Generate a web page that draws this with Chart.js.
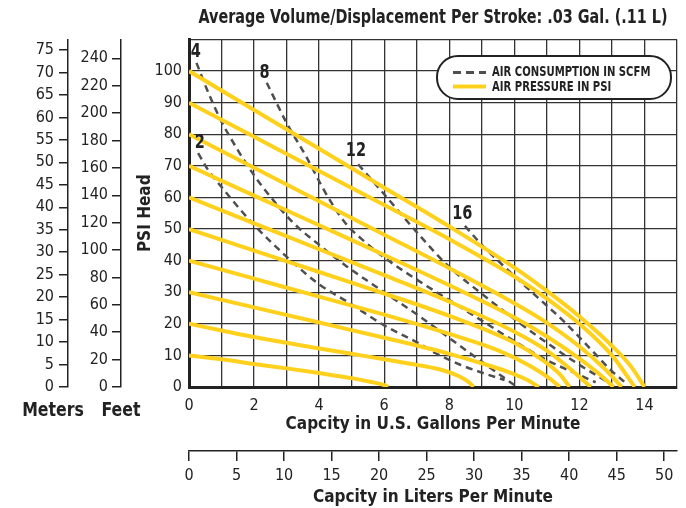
<!DOCTYPE html>
<html>
<head>
<meta charset="utf-8">
<script src="https://cdn.jsdelivr.net/npm/chart.js@4.4.1/dist/chart.umd.min.js"></script>
<style>
  html, body { margin: 0; padding: 0; background: #fff; }
  #wrap { width: 686px; height: 508px; }
</style>
</head>
<body>
<div id="wrap"><canvas id="pumpChart"></canvas></div>
<script>
// air pressure curves: capacity (gpm) vs head (psi)
const gpm10 = [0, 1, 2, 3, 4, 5, 5.6, 6.0, 6.12];
const psi10 = [10, 8.8, 7.3, 5.9, 4.4, 2.8, 1.6, 0.6, 0];
const gpm20 = [0, 1, 2, 3, 4, 5, 6, 7, 7.8, 8.3, 8.6, 8.75];
const psi20 = [20, 17.9, 15.8, 14, 12.2, 10.5, 8.8, 7, 5.3, 3.4, 1.5, 0];
const gpm30 = [0, 2, 4, 6, 8, 9, 9.8, 10.4, 10.75];
const psi30 = [30, 25.2, 20.4, 15.6, 10.5, 7.5, 4.8, 2.2, 0];
const gpm40 = [0, 2, 4, 6, 8, 9.5, 10.5, 11.1, 11.4];
const psi40 = [40, 34.3, 28.6, 22.9, 16.8, 11.6, 6.6, 2.6, 0];
const gpm50 = [0, 2, 4, 6, 8, 10, 10.8, 11.4, 11.7];
const psi50 = [50, 43.2, 36.4, 29.6, 22.5, 14, 9, 4, 0];
const gpm60 = [0, 2, 4, 6, 8, 10, 11, 11.8, 12.35];
const psi60 = [60, 51.8, 43.6, 35.4, 27, 17.5, 11.5, 5, 0];
const gpm70 = [0, 2, 4, 6, 8, 10, 11, 12, 12.6, 13.05];
const psi70 = [70, 60.6, 51.2, 41.8, 32.2, 22, 16, 9, 4.2, 0];
const gpm80 = [0, 2, 4, 6, 8, 10, 11, 12, 12.8, 13.3];
const psi80 = [80, 69.4, 58.8, 48.2, 37.6, 26.5, 20.3, 12.8, 5.5, 0];
const gpm90 = [0, 2, 4, 6, 8, 10, 11, 12, 13, 13.7];
const psi90 = [90, 79.2, 68.4, 57.6, 46.8, 35, 28, 20, 10, 0];
const gpm100 = [0, 2, 4, 6, 8, 10, 11, 12, 13, 13.6, 14];
const psi100 = [100, 87.7, 75.4, 63.1, 50.8, 37.8, 30.4, 22.3, 13, 6.3, 0];

// air consumption curves (scfm)
const gpmScfm2 = [0.28, 0.6, 1.0, 1.9, 3.1, 4.0, 4.9, 6.0, 7.07, 7.6, 8.3, 9.1, 9.7];
const psiScfm2 = [74, 68.5, 63.3, 52.4, 40.3, 32.5, 26.8, 19.5, 13.8, 10.6, 7.2, 4.2, 2.2];
const gpmScfm4 = [0.23, 0.6, 1.0, 1.5, 2, 2.6, 3.2, 4, 4.86, 6, 7, 8, 9, 10];
const psiScfm4 = [102.6, 93, 84, 75, 67, 59, 52, 45, 38.1, 30, 23, 15.5, 8, 0.6];
const gpmScfm8 = [2.39, 3.0, 3.6, 4.2, 4.8, 5.4, 6, 7, 8, 9, 10, 11, 12, 12.5];
const psiScfm8 = [96.3, 83.6, 73, 61.4, 52, 46, 41, 34, 27.5, 21, 14.5, 8.5, 3.8, 1.5];
const gpmScfm12 = [5.2, 6, 7, 8, 9, 10, 11, 12, 12.8];
const psiScfm12 = [70.5, 61, 49, 38, 29.5, 21.5, 14, 7, 2];
const gpmScfm16 = [8.48, 9, 9.68, 10.69, 11.5, 12.3, 13, 13.4];
const psiScfm16 = [51, 45, 38.2, 28.6, 21, 12.5, 5, 1.5];

// scfm labels on the curves
const scfmLabels = ['4', '8', '2', '12', '16'];
const scfmLabelGpm = [0.21, 2.32, 0.33, 5.13, 8.4];
const scfmLabelPsi = [106.1, 99.5, 77.1, 74.8, 54.8];

const PSI_MAX = 110;
const FT_PER_PSI = 2.3067;
const M_PER_PSI = 0.70307;

const FONT = "'DejaVu Sans Condensed', 'Liberation Sans Narrow', sans-serif";
const INK = '#222';
const YELLOW = '#FFD11C';
const DASH_GRAY = '#4f4f4f';
const TITLE = 'Average Volume/Displacement Per Stroke: .03 Gal. (.11 L)';

Chart.defaults.font.family = FONT;
Chart.defaults.color = INK;

function pts(xs, ys) {
    return xs.map((x, i) => ({ x: x, y: ys[i] }));
}

function pressureSet(xs, ys) {
    return {
        data: pts(xs, ys),
        borderColor: YELLOW,
        borderWidth: 4,
        cubicInterpolationMode: 'monotone',
        pointRadius: 0,
        showLine: true
    };
}

function scfmSet(xs, ys) {
    return {
        data: pts(xs, ys),
        borderColor: DASH_GRAY,
        borderWidth: 2.5,
        borderDash: [7, 5],
        cubicInterpolationMode: 'monotone',
        pointRadius: 0,
        showLine: true
    };
}

const datasets = [
    pressureSet(gpm100, psi100),
    pressureSet(gpm90, psi90),
    pressureSet(gpm80, psi80),
    pressureSet(gpm70, psi70),
    pressureSet(gpm60, psi60),
    pressureSet(gpm50, psi50),
    pressureSet(gpm40, psi40),
    pressureSet(gpm30, psi30),
    pressureSet(gpm20, psi20),
    pressureSet(gpm10, psi10),
    scfmSet(gpmScfm2, psiScfm2),
    scfmSet(gpmScfm4, psiScfm4),
    scfmSet(gpmScfm8, psiScfm8),
    scfmSet(gpmScfm12, psiScfm12),
    scfmSet(gpmScfm16, psiScfm16)
];

// narrow text: the original uses a condensed face, squeeze a bit
function narrowText(ctx, text, x, y, squeeze) {
    ctx.save();
    ctx.translate(x, y);
    ctx.scale(squeeze, 1);
    ctx.fillText(text, 0, 0);
    ctx.restore();
}

const overlay = {
    id: 'overlay',
    afterDatasetsDraw(chart) {
        const ctx = chart.ctx;
        const xs = chart.scales.x, ys = chart.scales.y;
        ctx.save();
        ctx.fillStyle = INK;
        ctx.font = 'bold 19px ' + FONT;
        ctx.textAlign = 'center';
        ctx.textBaseline = 'middle';
        scfmLabels.forEach((t, i) => {
            narrowText(ctx, t, xs.getPixelForValue(scfmLabelGpm[i]), ys.getPixelForValue(scfmLabelPsi[i]), 0.85);
        });
        ctx.restore();
    },
    afterDraw(chart) {
        const ctx = chart.ctx;
        const area = chart.chartArea;
        ctx.save();

        // title over the plot area, condensed to the original width
        ctx.fillStyle = INK;
        ctx.font = 'bold 19px ' + FONT;
        ctx.textAlign = 'center';
        ctx.textBaseline = 'middle';
        ctx.fillText(TITLE, (area.left + area.right) / 2, 18, 469);

        // legend box
        ctx.beginPath();
        ctx.roundRect(437, 56, 234, 43, 21);
        ctx.fillStyle = '#fff';
        ctx.fill();
        ctx.lineWidth = 2;
        ctx.strokeStyle = INK;
        ctx.stroke();

        ctx.beginPath();
        ctx.setLineDash([8, 5]);
        ctx.lineWidth = 3;
        ctx.strokeStyle = DASH_GRAY;
        ctx.moveTo(453, 72.5);
        ctx.lineTo(486, 72.5);
        ctx.stroke();
        ctx.setLineDash([]);

        ctx.beginPath();
        ctx.lineWidth = 4;
        ctx.strokeStyle = YELLOW;
        ctx.moveTo(453, 86.5);
        ctx.lineTo(486, 86.5);
        ctx.stroke();

        ctx.fillStyle = INK;
        ctx.font = 'bold 14px ' + FONT;
        ctx.textAlign = 'left';
        narrowText(ctx, 'AIR CONSUMPTION IN SCFM', 492, 72.5, 0.8);
        narrowText(ctx, 'AIR PRESSURE IN PSI', 492, 87, 0.8);

        // unit names under the head scales
        ctx.font = 'bold 19px ' + FONT;
        ctx.textAlign = 'center';
        narrowText(ctx, 'Meters', 53, 411, 0.92);
        narrowText(ctx, 'Feet', 121, 411, 0.92);
        ctx.restore();
    }
};

const tickFont = { size: 16 };
const titleFont = { size: 17, weight: 'bold' };

new Chart(document.getElementById('pumpChart'), {
    type: 'scatter',
    data: { datasets: datasets },
    plugins: [overlay],
    options: {
        responsive: true,
        maintainAspectRatio: false,
        animation: false,
        layout: { padding: { top: 39.5, right: 0, bottom: 0, left: 0 } },
        plugins: {
            legend: { display: false },
            tooltip: { enabled: false },
            title: { display: false }
        },
        scales: {
            x: {
                type: 'linear',
                position: 'bottom',
                weight: 0,
                min: 0,
                max: 15,
                ticks: {
                    stepSize: 1,
                    font: tickFont,
                    padding: 9,
                    maxRotation: 0,
                    autoSkip: false,
                    callback: v => (v % 2 === 0 && v < 15) ? String(v) : ''
                },
                grid: { color: '#333', lineWidth: 1.3, drawTicks: false },
                border: { display: true, width: 3, color: INK },
                title: {
                    display: true,
                    text: 'Capcity in U.S. Gallons Per Minute',
                    font: titleFont,
                    padding: { top: 0, bottom: 16 }
                },
                afterFit: s => { s.height = 64; }
            },
            xl: {
                type: 'linear',
                position: 'bottom',
                weight: 1,
                min: 0,
                max: 51.35,
                ticks: {
                    stepSize: 5,
                    includeBounds: false,
                    autoSkip: false,
                    font: tickFont,
                    padding: 5,
                    maxRotation: 0
                },
                grid: { drawOnChartArea: false, tickLength: 10, color: INK, lineWidth: 1.5 },
                border: { display: true, width: 1.5, color: INK },
                title: {
                    display: true,
                    text: 'Capcity in Liters Per Minute',
                    font: titleFont,
                    padding: { top: 0, bottom: 0 }
                },
                afterFit: s => { s.height = 57; }
            },
            y: {
                type: 'linear',
                position: 'left',
                weight: 0,
                min: 0,
                max: PSI_MAX,
                ticks: {
                    stepSize: 10,
                    font: tickFont,
                    padding: 7,
                    autoSkip: false,
                    callback: v => v < PSI_MAX ? String(v) : ''
                },
                grid: { color: '#333', lineWidth: 1.3, drawTicks: false },
                border: { display: true, width: 3, color: INK },
                title: {
                    display: true,
                    text: 'PSI Head',
                    font: { size: 17, weight: 'bold' },
                    padding: { top: 14, bottom: 14 }
                },
                afterFit: s => { s.width = 68; }
            },
            yf: {
                type: 'linear',
                position: 'left',
                weight: 1,
                min: 0,
                max: PSI_MAX * FT_PER_PSI,
                ticks: { stepSize: 20, includeBounds: false, autoSkip: false, font: tickFont, padding: 4 },
                grid: { drawOnChartArea: false, tickLength: 9, color: INK, lineWidth: 1.5 },
                border: { display: true, width: 1.5, color: INK },
                afterFit: s => { s.width = 53; }
            },
            ym: {
                type: 'linear',
                position: 'left',
                weight: 2,
                min: 0,
                max: PSI_MAX * M_PER_PSI,
                ticks: { stepSize: 5, includeBounds: false, autoSkip: false, font: tickFont, padding: 5 },
                grid: { drawOnChartArea: false, tickLength: 9, color: INK, lineWidth: 1.5 },
                border: { display: true, width: 1.5, color: INK },
                afterFit: s => { s.width = 68; }
            }
        }
    }
});
</script>
</body>
</html>
